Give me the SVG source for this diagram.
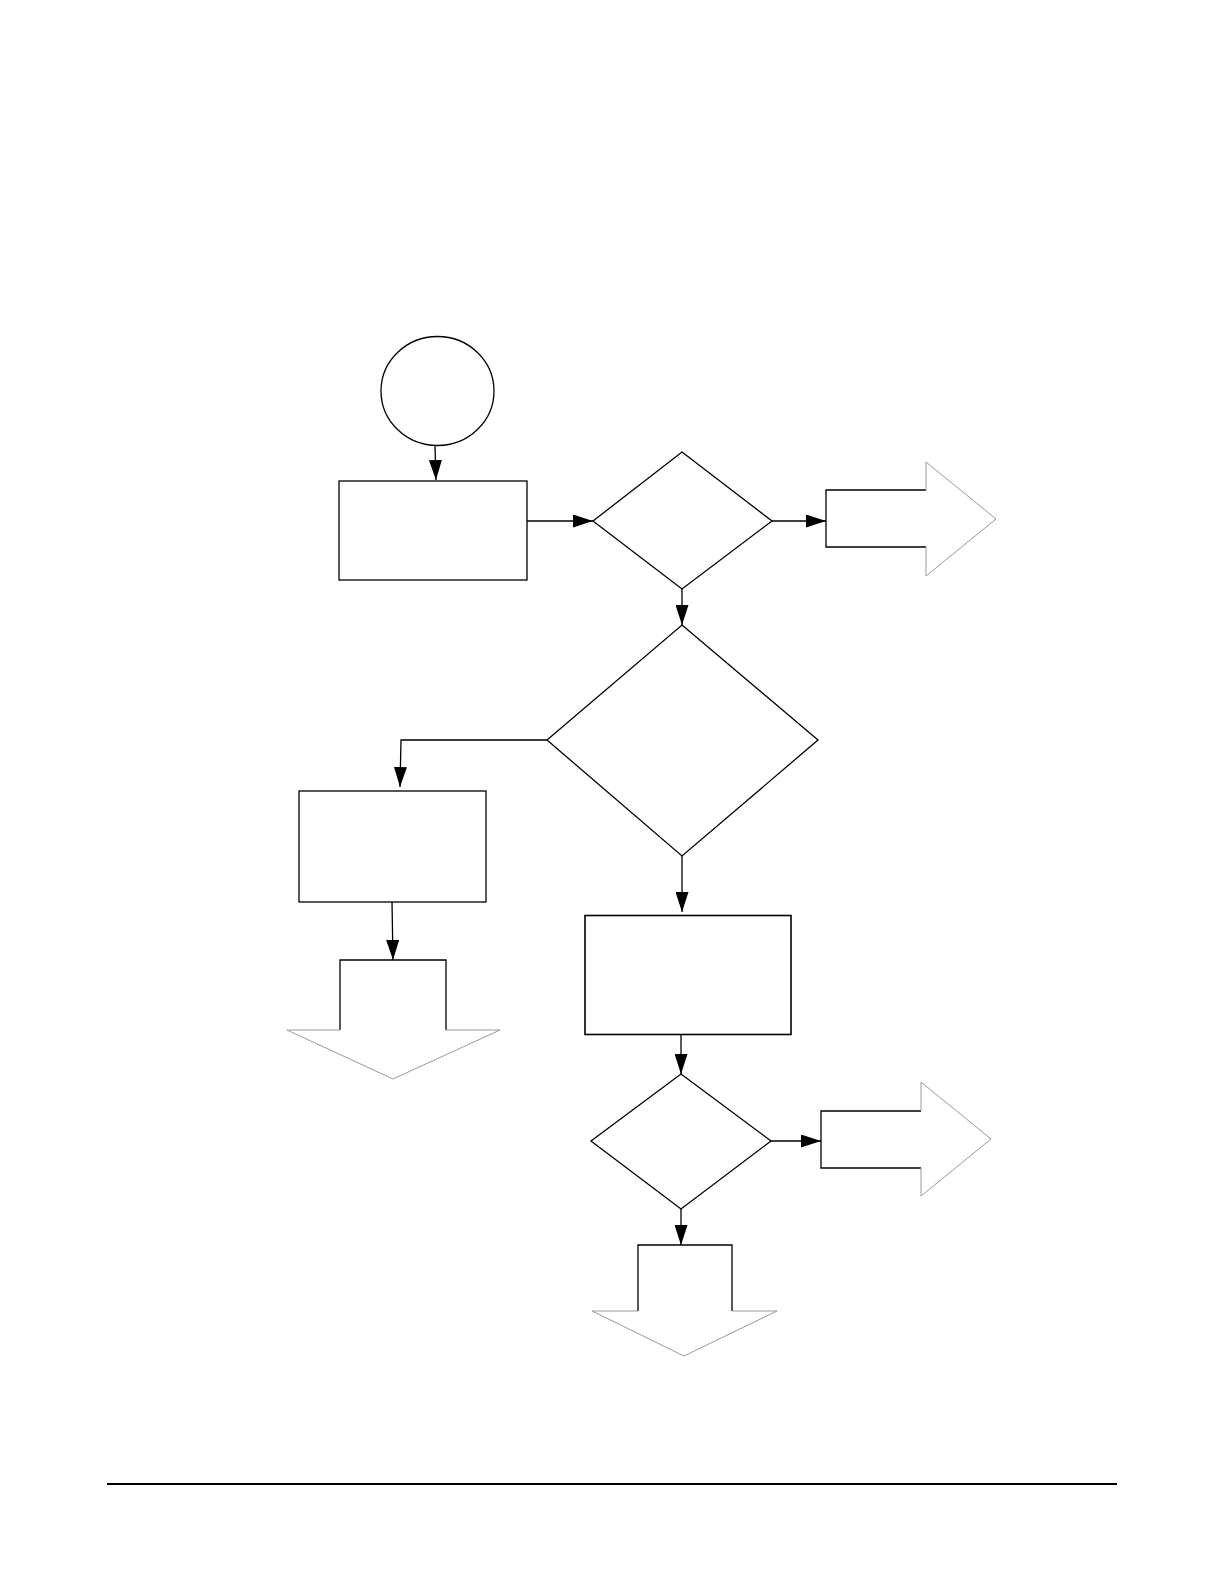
<svg xmlns="http://www.w3.org/2000/svg" width="1224" height="1584" viewBox="0 0 1224 1584">
<style>
.n{fill:#fff;stroke:#000;stroke-width:1.3}
.b{fill:#fff;stroke:#000;stroke-width:1.6}
.sh{fill:none;stroke:#000;stroke-width:1.3}
.hd{fill:none;stroke:#999;stroke-width:1}
.c{fill:none;stroke:#000;stroke-width:1.3}
</style>
<defs>
<marker id="ah" markerUnits="userSpaceOnUse" markerWidth="20" markerHeight="13" refX="20" refY="6.5" orient="auto">
<path d="M0,0 L20,6.5 L0,13 z" fill="#000"/>
</marker>
</defs>
<rect width="1224" height="1584" fill="#fff"/>
<g id="start"><ellipse class="n" cx="437.5" cy="391" rx="56.5" ry="54.5"/></g>
<g id="box1"><rect class="n" x="339" y="481" width="188" height="99"/></g>
<g id="dec1"><polygon class="n" points="682,452 772,521 682,589 593,521"/></g>
<g id="out1"><path fill="#fff" d="M826,490 H926 V462 L996,519 L926,576 V547 H826 z"/><polyline class="sh" points="926,490 826,490 826,547 926,547"/><polyline class="hd" points="926,490 926,462 996,519 926,576 926,547"/></g>
<g id="dec2"><polygon class="n" points="682,625 818,740 682,856 547,740"/></g>
<g id="box2"><rect class="n" x="299" y="791" width="187" height="111"/></g>
<g id="out2"><path fill="#fff" d="M340,1030 V960 H446 V1030 H500 L393,1079 L287,1030 z"/><polyline class="sh" points="340,1030 340,960 446,960 446,1030"/><polyline class="hd" points="446,1030 500,1030 393,1079 287,1030 340,1030"/></g>
<g id="box3"><rect class="b" x="585" y="915.5" width="206" height="119"/></g>
<g id="dec3"><polygon class="n" points="681,1074 771,1141 681,1209 591,1141"/></g>
<g id="out3"><path fill="#fff" d="M821,1111 H921 V1082 L991,1139 L921,1196 V1168 H821 z"/><polyline class="sh" points="921,1111 821,1111 821,1168 921,1168"/><polyline class="hd" points="921,1111 921,1082 991,1139 921,1196 921,1168"/></g>
<g id="out4"><path fill="#fff" d="M638,1311 V1245 H732 V1311 H777 L684,1356 L592,1311 z"/><polyline class="sh" points="638,1311 638,1245 732,1245 732,1311"/><polyline class="hd" points="732,1311 777,1311 684,1356 592,1311 638,1311"/></g>
<g id="connectors">
<path class="c" marker-end="url(#ah)" d="M435,446 L436,480"/>
<path class="c" marker-end="url(#ah)" d="M527,521 L593,521"/>
<path class="c" marker-end="url(#ah)" d="M772,521 L826,521"/>
<path class="c" marker-end="url(#ah)" d="M682,589 L682,625"/>
<path class="c" marker-end="url(#ah)" d="M547,740 L401,740 L400,787"/>
<path class="c" stroke-width="2" marker-end="url(#ah)" d="M682,856 L682,912"/>
<path class="c" marker-end="url(#ah)" d="M681,1035 L681,1074"/>
<path class="c" marker-end="url(#ah)" d="M771,1141 L821,1141"/>
<path class="c" marker-end="url(#ah)" d="M681,1209 L681,1245"/>
<path class="c" marker-end="url(#ah)" d="M392,902 L393,960"/>
</g>
<line x1="107" y1="1484" x2="1117" y2="1484" stroke="#000" stroke-width="2"/>
</svg>
